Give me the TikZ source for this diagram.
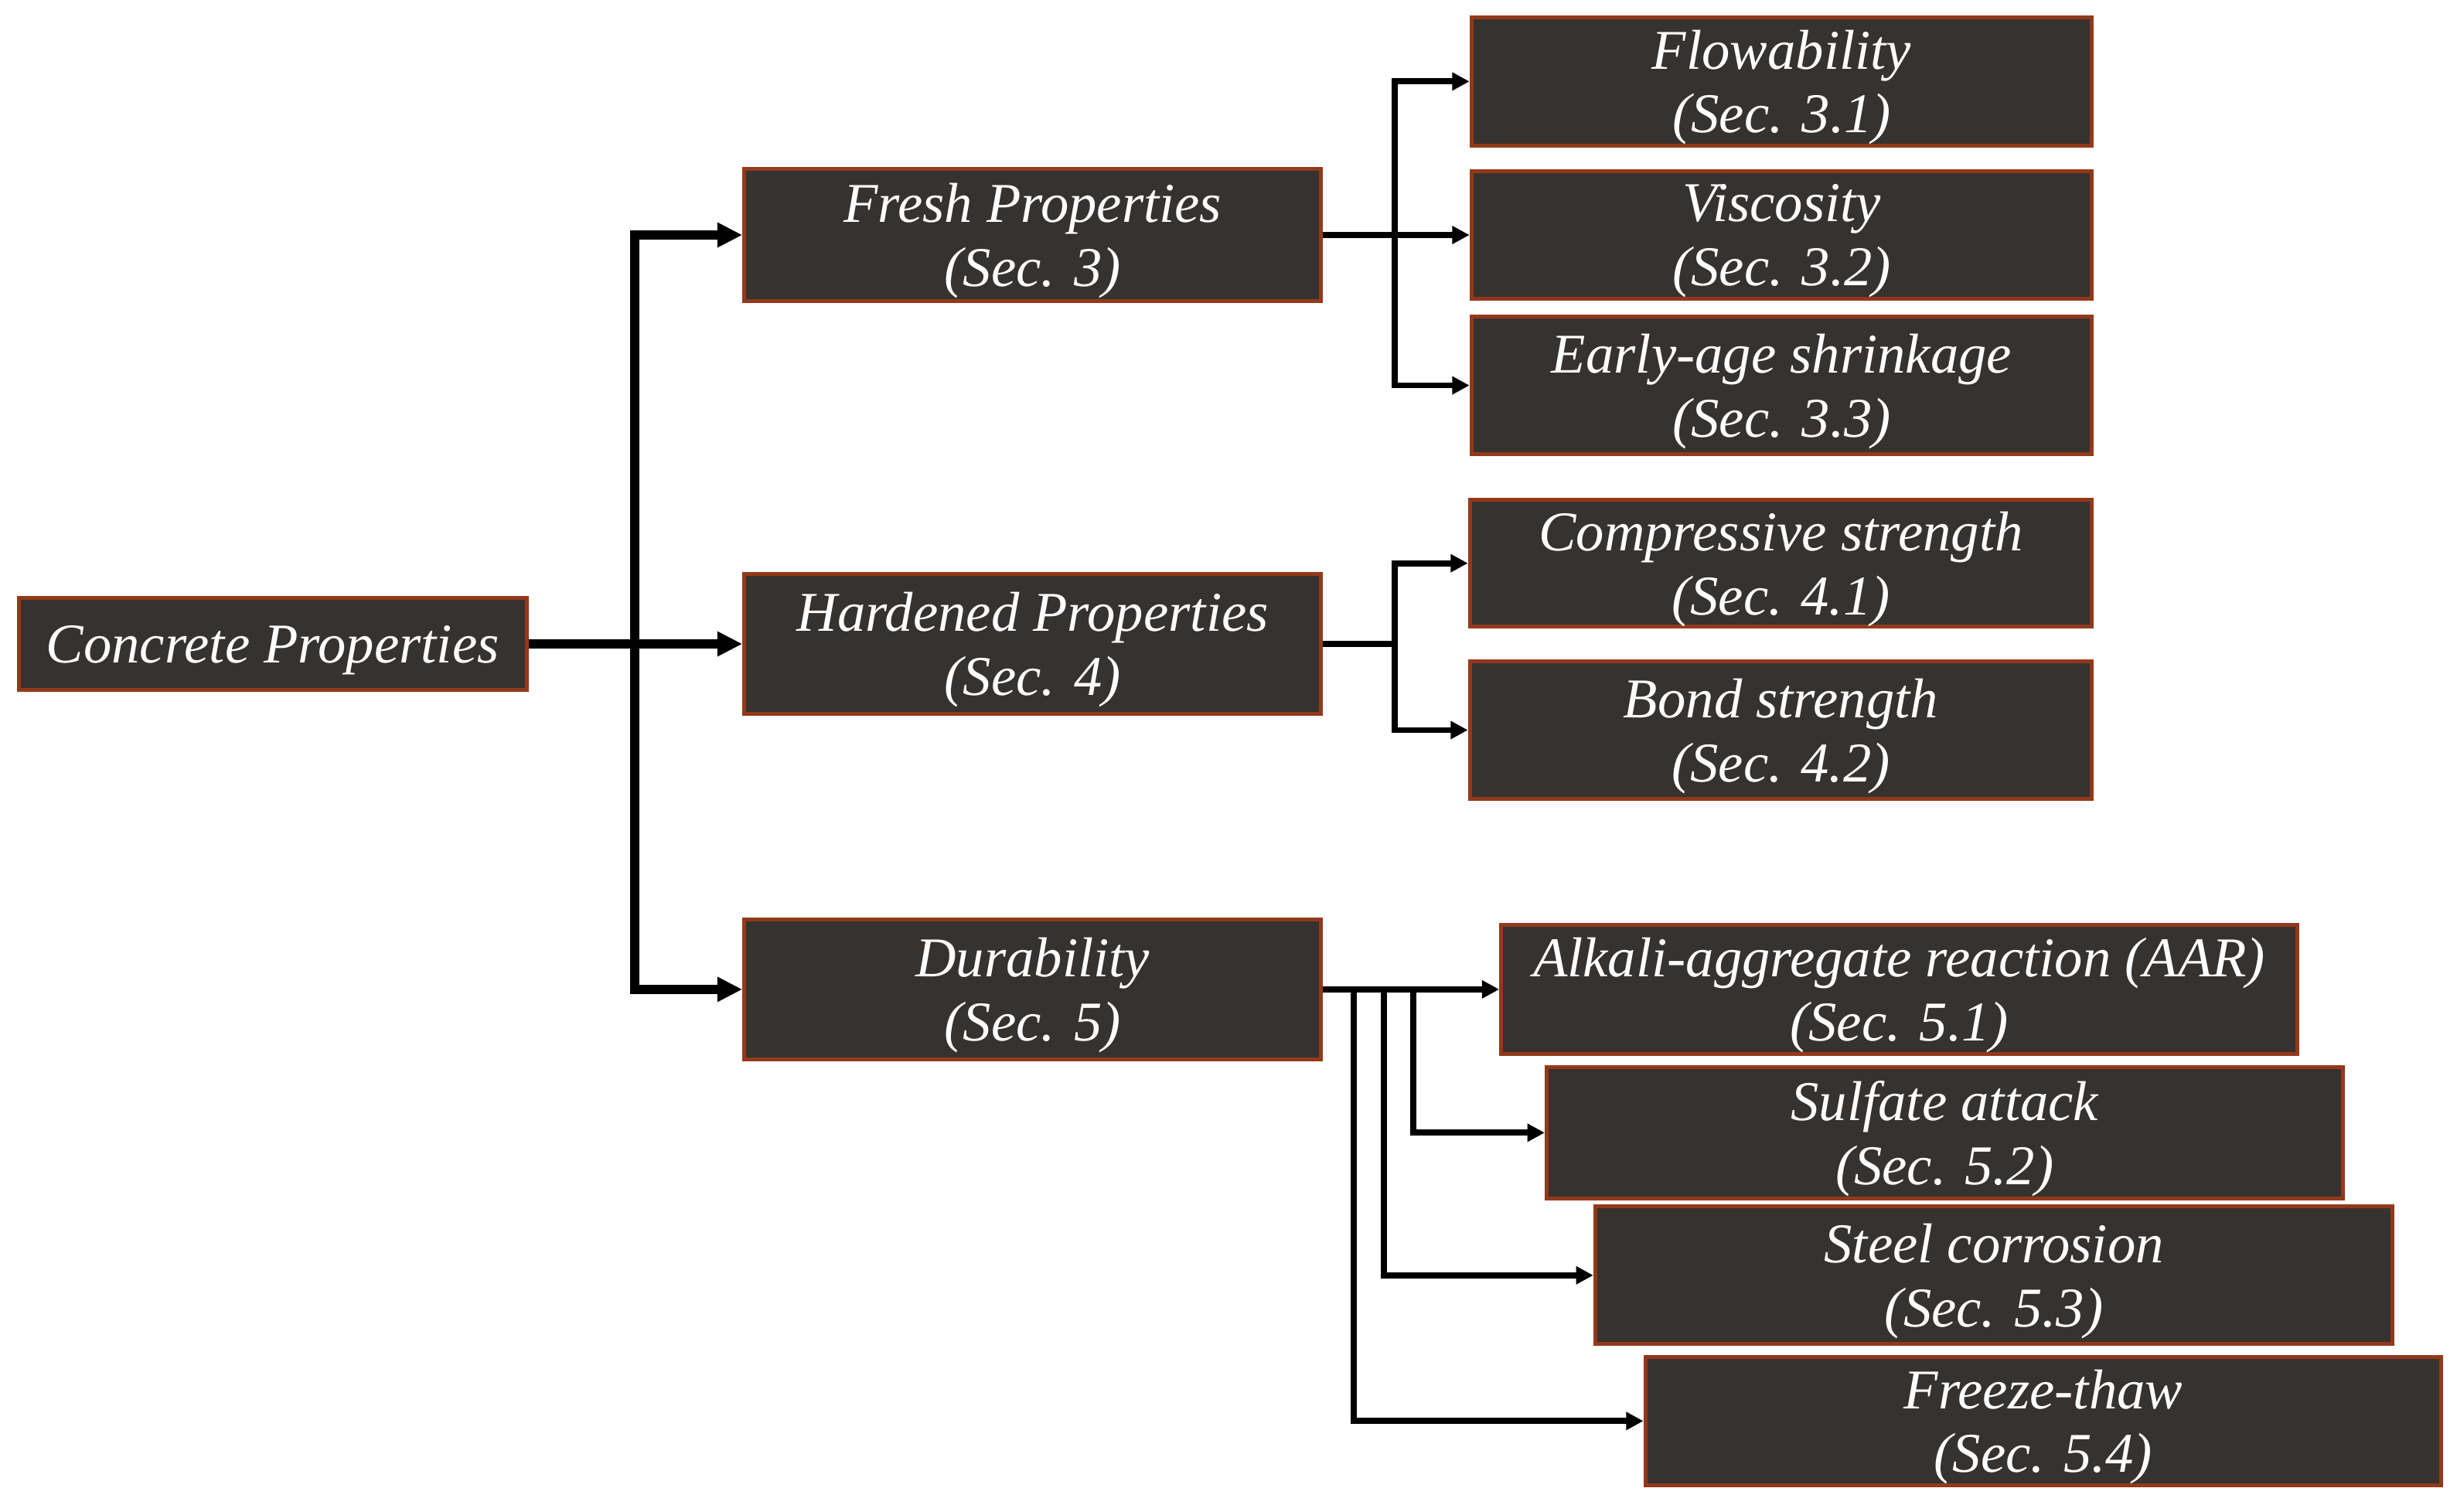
\documentclass[tikz,border=0pt]{standalone}
\usepackage{fontspec}
\setmainfont{Liberation Serif}
\usetikzlibrary{arrows.meta}
\definecolor{boxfill}{HTML}{353230}
\definecolor{rust}{HTML}{93391A}
\begin{document}
\begin{tikzpicture}[
          sec/.style={draw=rust, fill=boxfill, line width=0.7pt, text=white,
            align=center, inner sep=0pt, text depth=-0.6pt,
            font=\fontsize{10.2}{11.6}\selectfont\itshape},
          trunk/.style={line width=1.6pt, -{Triangle[length=0.16cm, width=0.15cm]}},
          branch/.style={line width=1.1pt},
          tip/.tip={Triangle[length=0.11cm, width=0.11cm]}
        ]
        \useasboundingbox (0,0) rectangle (15.68,-9.65);
        % Fixed-coordinate geometry: 1 cm = 100 px of the shrunk layout.
        \node[sec, minimum width=3.24cm, minimum height=0.59cm] (concrete) at (1.74,-4.11)
            {Concrete Properties};
        \node[sec, minimum width=3.68cm, minimum height=0.84cm] (fresh) at (6.59,-1.50)
            {Fresh Properties\\(Sec. 3)};
        \node[sec, minimum width=3.68cm, minimum height=0.89cm] (hard) at (6.59,-4.11)
            {Hardened Properties\\(Sec. 4)};
        \node[sec, minimum width=3.68cm, minimum height=0.89cm] (dur) at (6.59,-6.315)
            {Durability\\(Sec. 5)};

        \node[sec, minimum width=3.96cm, minimum height=0.82cm] (flow) at (11.37,-0.52)
            {Flowability\\(Sec. 3.1)};
        \node[sec, minimum width=3.96cm, minimum height=0.81cm] (visc) at (11.37,-1.50)
            {Viscosity\\(Sec. 3.2)};
        \node[sec, minimum width=3.96cm, minimum height=0.88cm] (early) at (11.37,-2.46)
            {Early-age shrinkage\\(Sec. 3.3)};
        \node[sec, minimum width=3.97cm, minimum height=0.81cm] (comp) at (11.365,-3.595)
            {Compressive strength\\(Sec. 4.1)};
        \node[sec, minimum width=3.97cm, minimum height=0.88cm] (bond) at (11.365,-4.66)
            {Bond strength\\(Sec. 4.2)};

        \node[sec, minimum width=5.08cm, minimum height=0.82cm] (aar) at (12.12,-6.315)
            {Alkali-aggregate reaction (AAR)\\(Sec. 5.1)};
        \node[sec, minimum width=5.08cm, minimum height=0.84cm] (sulf) at (12.41,-7.23)
            {Sulfate attack\\(Sec. 5.2)};
        \node[sec, minimum width=5.09cm, minimum height=0.88cm] (steel) at (12.725,-8.14)
            {Steel corrosion\\(Sec. 5.3)};
        \node[sec, minimum width=5.08cm, minimum height=0.82cm] (freeze) at (13.04,-9.07)
            {Freeze-thaw\\(Sec. 5.4)};

        % junctions
        \coordinate (jmain) at (4.05,-4.11);
        \coordinate (jfresh) at (8.90,-1.50);
        \coordinate (jhard) at (8.90,-4.11);

        \draw[trunk] (concrete.east) -- (hard.west);
        \draw[trunk, {Triangle[length=0.16cm, width=0.15cm]}-{Triangle[length=0.16cm, width=0.15cm]}]
            (fresh.west) -| (jmain) |- (dur.west);

        \draw[branch, -tip] (fresh.east) -- (visc.west);
        \draw[branch, tip-tip] (flow.west) -| (jfresh) |- (early.west);
        \draw[branch] (hard.east) -- (jhard);
        \draw[branch, tip-tip] (comp.west) -| (jhard) |- (bond.west);

        \draw[branch, -tip] (dur.east) -- (aar.west);
        \foreach \n/\x in {sulf/9.02, steel/8.83, freeze/8.64}
            \draw[branch, -tip] (dur.east -| \x,0) |- (\n.west);
      \end{tikzpicture}
\end{document}
